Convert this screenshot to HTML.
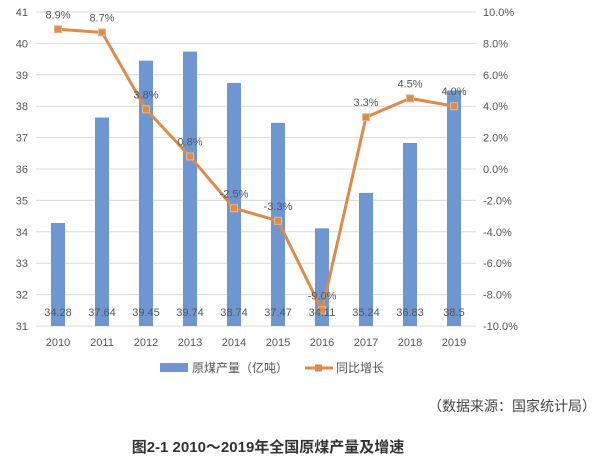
<!DOCTYPE html>
<html><head><meta charset="utf-8"><style>
body{margin:0;background:#fff;width:604px;height:463px;overflow:hidden;font-family:"Liberation Sans","Noto Sans CJK SC",sans-serif}
svg text{font-family:"Liberation Sans","Noto Sans CJK SC",sans-serif}
</style></head><body>
<svg width="604" height="463">
<g id="grid"></g><g id="bars"></g><g id="line"></g><g id="labels"></g>
<g>
<rect x="160" y="363" width="28" height="9" fill="#6e97d2"/>
<text x="192" y="372" font-size="12" fill="#555">原煤产量（亿吨）</text>
<line x1="305" y1="368" x2="333" y2="368" stroke="#dd8b4a" stroke-width="3"/>
<rect x="315" y="364.5" width="7" height="7" fill="#dd8b4a"/>
<text x="336" y="372" font-size="12" fill="#555">同比增长</text>
</g>
<text x="596" y="411" text-anchor="end" font-size="14" fill="#444">（数据来源：国家统计局）</text>
<text x="268" y="452" text-anchor="middle" font-size="15" font-weight="bold" fill="#333">图2-1 2010～2019年全国原煤产量及增速</text>
</svg>
<script>
const years=["2010","2011","2012","2013","2014","2015","2016","2017","2018","2019"];
const output=[34.28,37.64,39.45,39.74,38.74,37.47,34.11,35.24,36.83,38.5];
const outputLabels=["34.28","37.64","39.45","39.74","38.74","37.47","34.11","35.24","36.83","38.5"];
const growth=[8.9,8.7,3.8,0.8,-2.5,-3.3,-9.0,3.3,4.5,4.0];
const leftTicks=[31,32,33,34,35,36,37,38,39,40,41];
const rightTicks=[-10,-8,-6,-4,-2,0,2,4,6,8,10];
const NS="http://www.w3.org/2000/svg";
const topY=12,botY=326,L=36,R=476;
const yL=v=>botY-(v-31)/10*(botY-topY);
const yR=v=>botY-(v+10)/20*(botY-topY);
const xC=i=>L+(R-L)/10*(i+0.5);
function mk(t,a,p){const e=document.createElementNS(NS,t);for(const k in a)e.setAttribute(k,a[k]);p.appendChild(e);return e;}
const G=document.getElementById('grid'),B=document.getElementById('bars'),Ln=document.getElementById('line'),Lb=document.getElementById('labels');
leftTicks.forEach(v=>{
 const l=mk('line',{x1:L,x2:R,y1:yL(v),y2:yL(v),stroke:'#d9d9d9','stroke-width':1},G);
 
 
 const t=mk('text',{x:28,y:yL(v)+4,'text-anchor':'end','font-size':11,fill:'#555'},G);t.textContent=v;
 
 
});
rightTicks.forEach(v=>{
 const t=mk('text',{x:483,y:yR(v)+4,'font-size':11,fill:'#555'},G);t.textContent=v.toFixed(1)+'%';
 
 
});
years.forEach((y,i)=>{
 const t=mk('text',{x:xC(i),y:346,'text-anchor':'middle','font-size':11,fill:'#555'},G);t.textContent=y;
 
 
});
output.forEach((v,i)=>{
 const r=mk('rect',{x:xC(i)-7,y:yL(v),width:14,height:botY-yL(v),fill:'#6e97d2'},B);
 
 
 const t=mk('text',{x:xC(i),y:316,'text-anchor':'middle','font-size':11,fill:'#555'},Lb);t.textContent=outputLabels[i];
 
 
});
const pl=mk('polyline',{points:growth.map((v,i)=>xC(i)+','+yR(v)).join(' '),fill:'none',stroke:'#dd8b4a','stroke-width':3},Ln);


growth.forEach((v,i)=>{
 const m=mk('rect',{x:xC(i)-3.5,y:yR(v)-3.5,width:7,height:7,fill:'#dd8b4a',stroke:'#e8b890','stroke-width':1},Ln);
 
 
 const t=mk('text',{x:xC(i),y:yR(v)-11,'text-anchor':'middle','font-size':11,fill:'#555'},Lb);t.textContent=v.toFixed(1)+'%';
 
 
});
</script>
</body></html>
